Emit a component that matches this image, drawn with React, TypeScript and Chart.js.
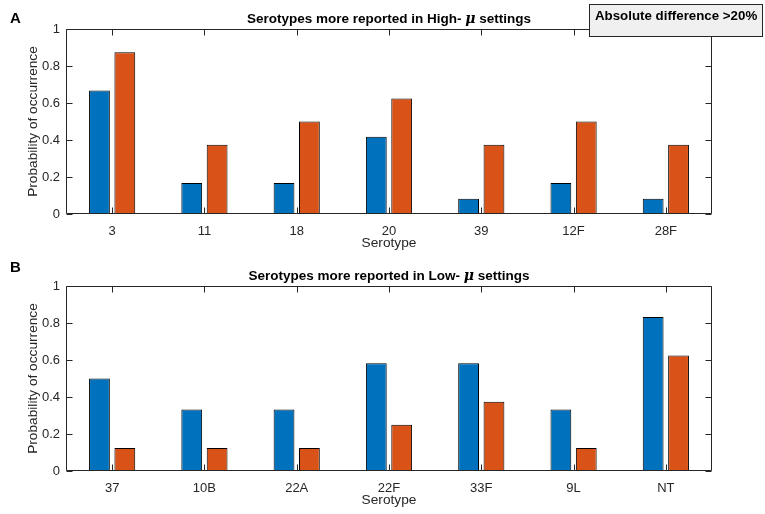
import React, { useEffect, useRef } from 'react';
import { Chart, registerables } from 'chart.js';
Chart.register(...registerables);

const topCategories = ['3', '11', '18', '20', '39', '12F', '28F'];
const topHighSeries = [0.667, 0.167, 0.167, 0.417, 0.083, 0.167, 0.083];
const topLowSeries = [0.875, 0.375, 0.5, 0.625, 0.375, 0.5, 0.375];
const bottomCategories = ['37', '10B', '22A', '22F', '33F', '9L', 'NT'];
const bottomHighSeries = [0.5, 0.333, 0.333, 0.583, 0.583, 0.333, 0.833];
const bottomLowSeries = [0.125, 0.125, 0.125, 0.25, 0.375, 0.125, 0.625];
const yTickValues = [0, 0.2, 0.4, 0.6, 0.8, 1];
const topTitleParts = ['Serotypes more reported in High- ', 'μ', ' settings'];
const bottomTitleParts = ['Serotypes more reported in Low- ', 'μ', ' settings'];
const annotationText = 'Absolute difference >20%';
const xTitle = 'Serotype';
const yTitle = 'Probability of occurrence';

const FONT = '"Liberation Sans", Arial, Helvetica, sans-serif';
const AXIS_COLOR = '#262626';
const BLUE = '#0072BD';
const ORANGE = '#D95319';
const W = 765;
const H = 257;

type PanelProps = {
  categories: string[];
  s1: number[];
  s2: number[];
  titleParts: string[];
  letter: string;
  letterY: number;
  showAnnotation: boolean;
};

function Panel({ categories, s1, s2, titleParts, letter, letterY, showAnnotation }: PanelProps) {
  const ref = useRef<HTMLCanvasElement | null>(null);
  useEffect(() => {
    if (!ref.current) return;
    const decor = {
      id: 'decor',
      afterDraw(chart: any) {
        const ctx = chart.ctx;
        const ca = chart.chartArea;
        const xs = chart.scales.x;
        const ys = chart.scales.y;
        ctx.save();
        // frame
        ctx.strokeStyle = AXIS_COLOR;
        ctx.lineWidth = 1;
        const L = Math.round(ca.left) + 0.5;
        const R = Math.round(ca.right) - 0.5;
        const T = Math.round(ca.top) + 0.5;
        const B = Math.round(ca.bottom) - 0.5;
        ctx.beginPath();
        ctx.rect(L, T, R - L, B - T);
        ctx.stroke();
        const tl = 6;
        ctx.beginPath();
        for (let i = 0; i < categories.length; i++) {
          const px = Math.round(xs.getPixelForTick(i)) + 0.5;
          ctx.moveTo(px, B);
          ctx.lineTo(px, B - tl);
          ctx.moveTo(px, T);
          ctx.lineTo(px, T + tl);
        }
        for (const v of yTickValues) {
          const py = Math.round(ys.getPixelForValue(v)) + 0.5;
          ctx.moveTo(L, py);
          ctx.lineTo(L + tl, py);
          ctx.moveTo(R, py);
          ctx.lineTo(R - tl, py);
        }
        ctx.stroke();
        // title
        const cx = (ca.left + ca.right) / 2;
        const fonts = [
          `bold 13.5px ${FONT}`,
          `italic bold 14px "DejaVu Serif", "Liberation Serif", serif`,
          `bold 13.5px ${FONT}`,
        ];
        let total = 0;
        const widths = titleParts.map((t, i) => {
          ctx.font = fonts[i];
          const w = ctx.measureText(t).width;
          total += w;
          return w;
        });
        let x = cx - total / 2;
        ctx.fillStyle = '#000';
        ctx.textBaseline = 'middle';
        ctx.textAlign = 'left';
        titleParts.forEach((t, i) => {
          ctx.font = fonts[i];
          ctx.fillText(t, x, 19.5);
          x += widths[i];
        });
        // panel letter
        ctx.font = `bold 15px ${FONT}`;
        ctx.fillText(letter, 10, letterY);
        if (showAnnotation) {
          ctx.fillStyle = '#f0f0f0';
          ctx.fillRect(589, 4, 174, 32);
          ctx.strokeStyle = AXIS_COLOR;
          ctx.strokeRect(589.5, 4.5, 173, 32);
          ctx.fillStyle = '#000';
          ctx.font = `bold 13.3px ${FONT}`;
          ctx.fillText(annotationText, 595, 16);
        }
        ctx.restore();
      },
    };
    const tickFont = { family: FONT, size: 13 };
    const labelFont = { family: FONT, size: 13.7 };
    const chart = new Chart(ref.current, {
      type: 'bar',
      data: {
        labels: categories,
        datasets: [
          {
            data: s1,
            backgroundColor: BLUE,
            borderColor: '#000',
            borderWidth: 1,
            borderSkipped: false,
            categoryPercentage: 0.55,
            barPercentage: 0.82,
          },
          {
            data: s2,
            backgroundColor: ORANGE,
            borderColor: '#000',
            borderWidth: 1,
            borderSkipped: false,
            categoryPercentage: 0.55,
            barPercentage: 0.82,
          },
        ],
      },
      options: {
        responsive: false,
        animation: false,
        devicePixelRatio: 1,
        layout: { padding: { left: 25, right: 53, top: 29, bottom: 6 } },
        plugins: {
          legend: { display: false },
          tooltip: { enabled: false },
          title: { display: false },
        },
        scales: {
          x: {
            grid: { display: false, drawTicks: false },
            border: { display: false },
            ticks: { color: AXIS_COLOR, font: tickFont, padding: 10, maxRotation: 0, autoSkip: false },
            title: { display: true, text: xTitle, color: AXIS_COLOR, font: labelFont, padding: 0 },
            afterFit: (s: any) => {
              s.height = 37;
            },
          },
          y: {
            min: 0,
            max: 1,
            grid: { display: false, drawTicks: false },
            border: { display: false },
            afterBuildTicks: (s: any) => {
              s.ticks = yTickValues.map((v) => ({ value: v }));
            },
            ticks: { color: AXIS_COLOR, font: tickFont, padding: 6, callback: (v: any) => String(v) },
            title: { display: true, text: yTitle, color: AXIS_COLOR, font: labelFont, padding: 0 },
            afterFit: (s: any) => {
              s.width = 41;
            },
          },
        },
      },
      plugins: [decor],
    } as any);
    return () => chart.destroy();
  }, []);
  return <canvas ref={ref} width={W} height={H} style={{ display: 'block', width: W, height: H }} />;
}

export default function App() {
  return (
    <div style={{ position: 'fixed', left: 0, top: 0, width: W, height: 514, background: '#fff' }}>
      <Panel
        categories={topCategories}
        s1={topHighSeries}
        s2={topLowSeries}
        titleParts={topTitleParts}
        letter="A"
        letterY={19}
        showAnnotation={true}
      />
      <Panel
        categories={bottomCategories}
        s1={bottomHighSeries}
        s2={bottomLowSeries}
        titleParts={bottomTitleParts}
        letter="B"
        letterY={11}
        showAnnotation={false}
      />
    </div>
  );
}
